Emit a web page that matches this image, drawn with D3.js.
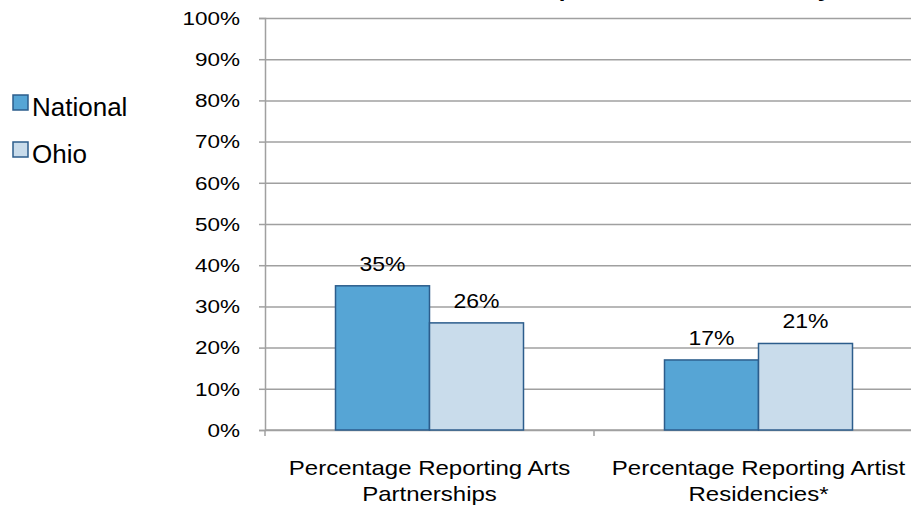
<!DOCTYPE html>
<html>
<head>
<meta charset="utf-8">
<title>Arts Partnerships and Artist Residencies</title>
<style>
  body { margin: 0; background: #fff; }
  svg text { font-family: "Liberation Sans", Arial, sans-serif; fill: #000; }
  .grid line { stroke: #a0a0a0; stroke-width: 1.5; }
  .grid path { display: none; }
  .yaxis path, .yaxis line, .xaxis path, .xaxis line { stroke: #a0a0a0; stroke-width: 1.5; }
</style>
</head>
<body>
<script src="https://d3js.org/d3.v7.min.js"></script>
<script>
// data
var categories = [["Percentage Reporting Arts", "Partnerships"], ["Percentage Reporting Artist", "Residencies*"]];
var series = ["National", "Ohio"];
var national = [35, 17];
var ohio = [26, 21];
var yTicks = [0, 10, 20, 30, 40, 50, 60, 70, 80, 90, 100];
var colors = {National: "#56a5d5", Ohio: "#c9dceb"};

var W = 911, H = 506;
var plotLeft = 265, plotRight = 923, plotTop = 18, plotBottom = 430;

var svg = d3.select("body").append("svg")
  .attr("width", W).attr("height", H);

var catIdx = categories.map(function(d, i){ return i; });
var x0 = d3.scaleBand().domain(catIdx).range([plotLeft, plotRight]).padding(0);
var x1 = d3.scaleBand().domain(series).range([0, x0.bandwidth()]).paddingInner(0).paddingOuter(0.75);
var y = d3.scaleLinear().domain([0, 100]).range([plotBottom, plotTop]);

// gridlines
svg.append("g")
  .attr("class", "grid")
  .attr("transform", "translate(" + plotLeft + ",0)")
  .call(d3.axisLeft(y).tickValues(yTicks).tickSize(-(plotRight - plotLeft)).tickFormat(""));

// y axis (source text is a bit stretched sideways)
var ya = svg.append("g")
  .attr("class", "yaxis")
  .attr("transform", "translate(" + plotLeft + ",0)")
  .call(d3.axisLeft(y).tickValues(yTicks).tickSize(6).tickFormat(function(d){ return d + "%"; }));
ya.selectAll("text")
  .attr("x", -20)
  .attr("dy", "0.35em")
  .style("font-size", "18px")
  .attr("transform", "scale(1.25,1)");

// x axis with ticks between categories
var xa = svg.append("g")
  .attr("class", "xaxis")
  .attr("transform", "translate(0," + plotBottom + ")");
xa.append("line").attr("x1", plotLeft).attr("x2", plotRight).attr("y1", 0).attr("y2", 0);
xa.selectAll(".tk")
  .data(catIdx.concat([catIdx.length]))
  .enter().append("line")
  .attr("class", "tk")
  .attr("x1", function(d){ return plotLeft + d * x0.step(); })
  .attr("x2", function(d){ return plotLeft + d * x0.step(); })
  .attr("y1", 0).attr("y2", 6);

// bars
var rows = [];
catIdx.forEach(function(i){
  rows.push({cat: i, s: "National", v: national[i]});
  rows.push({cat: i, s: "Ohio", v: ohio[i]});
});

svg.selectAll(".bar")
  .data(rows)
  .enter().append("rect")
  .attr("class", "bar")
  .attr("x", function(d){ return x0(d.cat) + x1(d.s); })
  .attr("y", function(d){ return y(d.v); })
  .attr("width", x1.bandwidth())
  .attr("height", function(d){ return plotBottom - y(d.v); })
  .attr("fill", function(d){ return colors[d.s]; })
  .attr("stroke", "#2c5d8c")
  .attr("stroke-width", 1.5);

// value labels
svg.selectAll(".val")
  .data(rows)
  .enter().append("text")
  .attr("class", "val")
  .attr("text-anchor", "middle")
  .attr("transform", function(d){
    return "translate(" + (x0(d.cat) + x1(d.s) + x1.bandwidth() / 2) + "," + (y(d.v) - 15) + ") scale(1.15,1)";
  })
  .style("font-size", "20px")
  .text(function(d){ return d.v + "%"; });

// category labels
var cl = svg.selectAll(".cat")
  .data(categories)
  .enter().append("g")
  .attr("class", "cat")
  .attr("transform", function(d, i){ return "translate(" + (x0(i) + x0.bandwidth() / 2) + ",0)"; });
cl.selectAll("text")
  .data(function(d){ return d; })
  .enter().append("text")
  .attr("text-anchor", "middle")
  .attr("transform", function(d, j){ return "translate(0," + (475 + j * 26) + ") scale(1.2,1)"; })
  .style("font-size", "20px")
  .text(function(d){ return d; });

// legend
var lg = svg.selectAll(".lg")
  .data(series)
  .enter().append("g")
  .attr("class", "lg")
  .attr("transform", function(d, i){ return "translate(13," + (95 + i * 47) + ")"; });
lg.append("rect")
  .attr("width", 15).attr("height", 15)
  .attr("fill", function(d){ return colors[d]; })
  .attr("stroke", "#2c5d8c").attr("stroke-width", 1.5);
lg.append("text")
  .attr("x", 19).attr("y", 21)
  .style("font-size", "26px")
  .text(function(d){ return d; });

// title, mostly above the visible area
svg.append("text")
  .attr("text-anchor", "end")
  .attr("transform", "translate(831,-3) scale(1.2,1)")
  .style("font-size", "20px")
  .style("font-weight", "bold")
  .text("Arts Partnerships and Artist Residency");
</script>
</body>
</html>
